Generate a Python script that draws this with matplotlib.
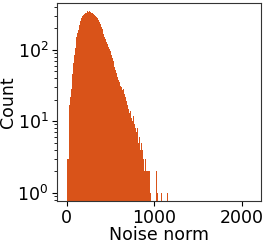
import numpy as np
import matplotlib
matplotlib.use("Agg")
import matplotlib.pyplot as plt

# Histogram bin edges (0..2100, 200 bins) and counts
bin_edges = np.linspace(0, 2100, 201)
counts_head = [0, 3, 3, 17, 22, 28, 45, 65, 85, 105,
               150, 172, 190, 205, 222, 250, 280, 300, 310, 318,
               325, 330, 342, 335, 350, 338, 345, 330, 322, 315,
               305, 298, 290, 275, 258, 245, 228, 210, 192, 178,
               165, 152, 140, 128, 120, 110, 101, 95, 84, 76,
               70, 63, 57, 52, 47, 42, 38, 35, 31, 30,
               27, 28, 24, 22, 21, 19, 17, 15, 13, 14,
               11, 10, 12, 9, 8, 7, 8, 1, 5, 6,
               4, 5, 4, 3, 2, 3, 2, 2, 2, 2,
               1, 1, 0, 0, 0, 0, 0, 2, 1, 0,
               0, 0, 0, 1, 0, 0, 0, 0, 0, 1]
counts = np.zeros(len(bin_edges) - 1)
counts[:len(counts_head)] = counts_head
centers = 0.5 * (bin_edges[:-1] + bin_edges[1:])

fig = plt.figure(figsize=(2.66, 2.44), dpi=100)
ax = fig.add_axes([0.214, 0.176, 0.767, 0.812])
ax.hist(centers, bins=bin_edges, weights=counts, log=True,
        color="#D95319", alpha=1.0)
ax.set_xlim(-110, 2215)
ax.set_ylim(0.766, 450)
ax.set_xticks([0, 1000, 2000])
ax.set_xlabel("Noise norm", fontsize=12.5, labelpad=-1)
ax.set_ylabel("Count", fontsize=12.5, labelpad=0)
ax.tick_params(labelsize=12.5, pad=2.5)
for s in ax.spines.values():
    s.set_color("#333333")
fig.savefig("out.png", dpi=100)
